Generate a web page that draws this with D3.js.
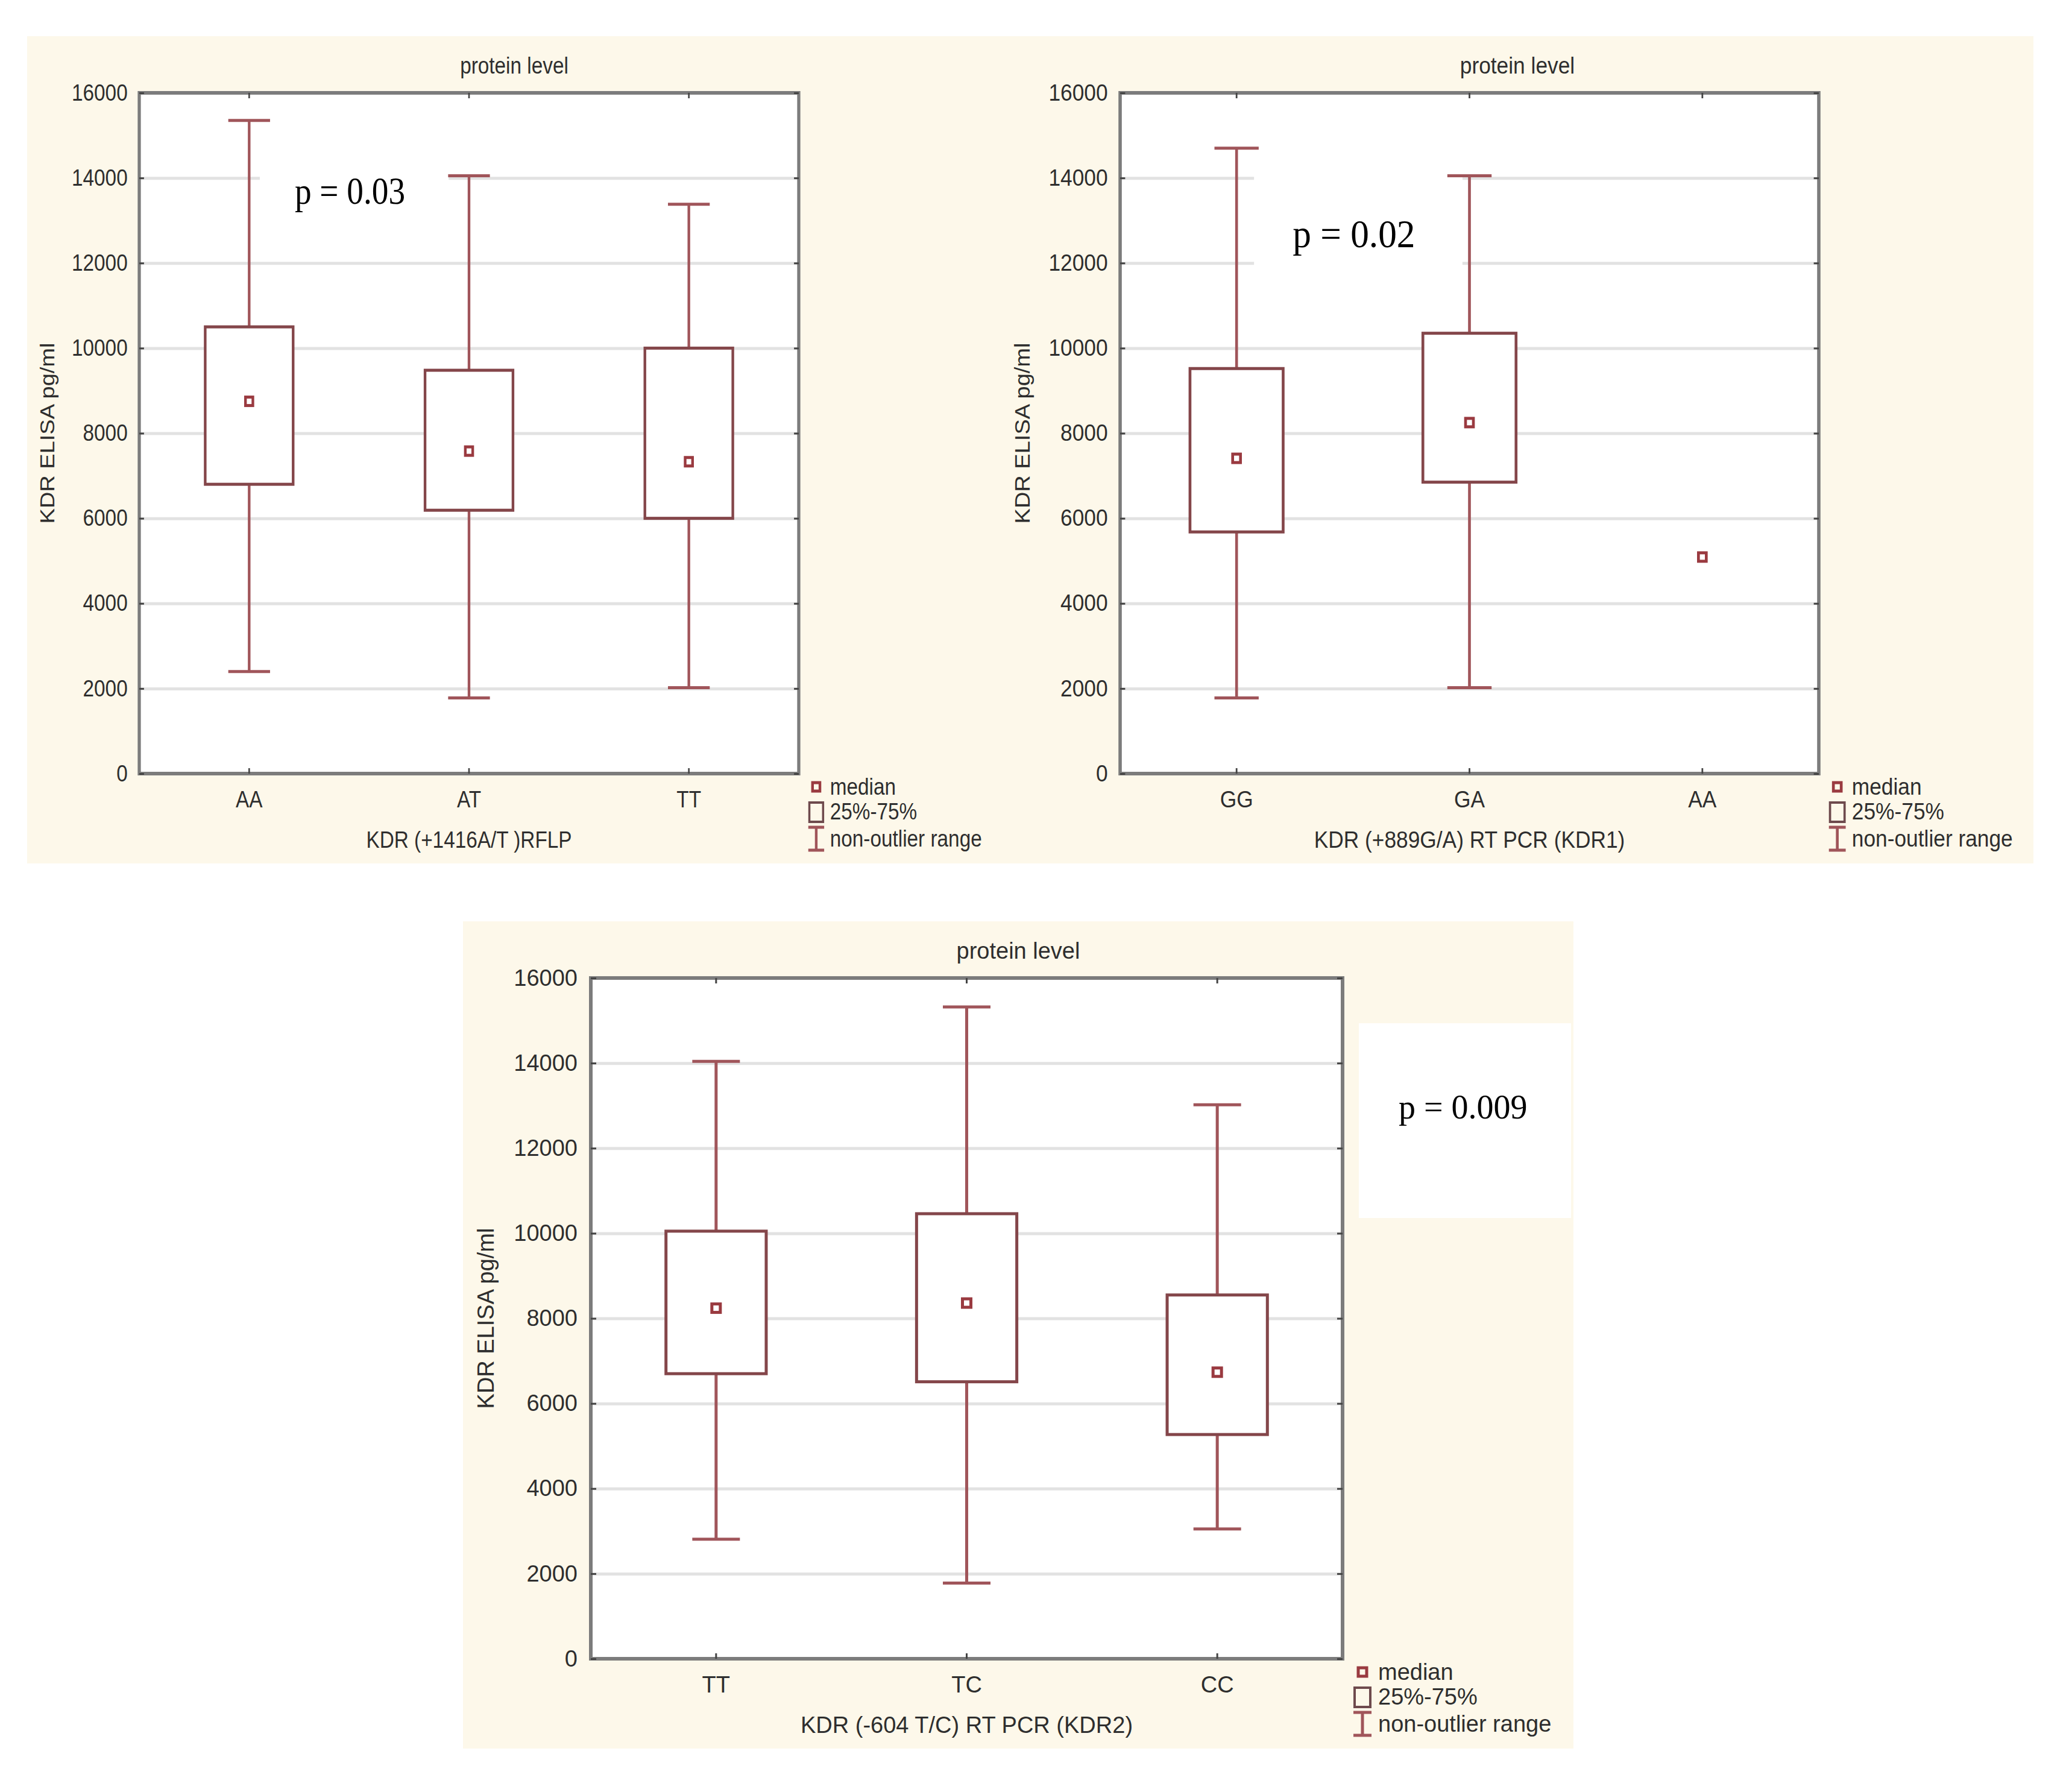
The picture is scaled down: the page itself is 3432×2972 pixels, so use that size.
<!DOCTYPE html>
<html>
<head>
<meta charset="utf-8">
<script src="https://cdn.jsdelivr.net/npm/d3@7"></script>
<style>
  body { margin: 0; background: #ffffff; }
  text { font-family: "Liberation Sans", Arial, sans-serif; }
  text.pval { font-family: "Liberation Serif", "Times New Roman", serif; }
</style>
</head>
<body>
<div class="chart"></div>
<script>
// y axis ticks, shared by the three plots
var yTicks = [0, 2000, 4000, 6000, 8000, 10000, 12000, 14000, 16000];

// plot 1: KDR (+1416A/T) RFLP
var cats1 = ["AA", "AT", "TT"];
var min1 = [2400, 1780, 2020];
var q1_1 = [6800, 6190, 6000];
var med1 = [8750, 7580, 7330];
var q3_1 = [10500, 9480, 10000];
var max1 = [15350, 14050, 13380];

// plot 2: KDR (+889G/A) RT PCR (KDR1)  - AA has only a median
var cats2 = ["GG", "GA", "AA"];
var min2 = [1780, 2020, null];
var q1_2 = [5680, 6850, null];
var med2 = [7410, 8250, 5090];
var q3_2 = [9520, 10350, null];
var max2 = [14700, 14050, null];

// plot 3: KDR (-604 T/C) RT PCR (KDR2)
var cats3 = ["TT", "TC", "CC"];
var min3 = [2810, 1780, 3050];
var q1_3 = [6700, 6510, 5270];
var med3 = [8240, 8360, 6735];
var q3_3 = [10050, 10460, 8550];
var max3 = [14040, 15320, 13020];

var titles = ["protein level", "protein level", "protein level"];
var xTitles = ["KDR (+1416A/T )RFLP", "KDR (+889G/A) RT PCR (KDR1)", "KDR (-604 T/C) RT PCR (KDR2)"];
var yTitle = "KDR ELISA pg/ml";
var pTexts = ["p = 0.03", "p = 0.02", "p = 0.009"];
var legendLabels = ["median", "25%-75%", "non-outlier range"];

// every panel is drawn in the same native layout, then squeezed sideways
var panelW = 1842, panelH = 1372;
var margin = {left: 212, top: 94};
var width = 1247, height = 1129;

var boxColor = "#84464a";
var whiskColor = "#a0555a";
var textColor = "#2e2e2e";

var svg = d3.select(".chart").append("svg")
    .attr("width", 3432)
    .attr("height", 2972);

svg.append("rect").attr("width", 3432).attr("height", 2972).attr("fill", "#ffffff");

var panels = [
    {cats: cats1, min: min1, q1: q1_1, med: med1, q3: q3_1, max: max1,
     tx: 45, ty: 60, sx: 0.8773,
     p: {x: 506, y: 278, size: 63}, pBox: {x: 440, y: 200, w: 357, h: 140}},
    {cats: cats2, min: min2, q1: q1_2, med: med2, q3: q3_2, max: max2,
     tx: 1661, ty: 60, sx: 0.9294,
     p: {x: 520, y: 350, size: 66}, pBox: {x: 451, y: 210, w: 372, h: 200}},
    {cats: cats3, min: min3, q1: q1_3, med: med3, q3: q3_3, max: max3,
     tx: 768, ty: 1528, sx: 1,
     p: {x: 1552, y: 327, size: 56}, pBox: {x: 1486, y: 169, w: 352, h: 323}}
];

panels.forEach(function(pn, i) {
    var panel = svg.append("g")
        .attr("transform", `translate(${pn.tx}, ${pn.ty}) scale(${pn.sx}, 1)`);

    // beige background
    panel.append("rect")
        .attr("width", panelW).attr("height", panelH)
        .attr("fill", "#fdf8ea");

    var chartGroup = panel.append("g")
        .attr("transform", `translate(${margin.left}, ${margin.top})`);

    var x = d3.scaleBand().domain(pn.cats).range([0, width]).padding(0);
    var y = d3.scaleLinear().domain([0, 16000]).range([height, 0]);
    var bw = x.bandwidth();
    var boxW = bw * 0.4;
    var capW = bw * 0.19;

    chartGroup.append("rect")
        .attr("width", width).attr("height", height)
        .attr("fill", "#ffffff");

    // gridlines
    var grid = chartGroup.append("g")
        .call(d3.axisLeft(y).tickValues(yTicks).tickSize(-width).tickFormat(""));
    grid.select(".domain").remove();
    grid.selectAll("line").attr("stroke", "#e2e2e2").attr("stroke-width", 5);

    // white patch behind the p value
    var pParent = i == 2 ? panel : chartGroup;
    var offX = i == 2 ? 0 : margin.left, offY = i == 2 ? 0 : margin.top;
    pParent.append("rect")
        .attr("x", pn.pBox.x - offX).attr("y", pn.pBox.y - offY)
        .attr("width", pn.pBox.w).attr("height", pn.pBox.h)
        .attr("fill", "#ffffff");

    var idx = d3.range(pn.cats.length).filter(k => pn.min[k] != null);
    var cx = k => x(pn.cats[k]) + bw / 2;

    // whiskers
    idx.forEach(function(k) {
        var c = cx(k);
        var w = chartGroup.append("g")
            .attr("stroke", whiskColor).attr("stroke-width", 5);
        w.append("line").attr("x1", c).attr("x2", c)
            .attr("y1", y(pn.max[k])).attr("y2", y(pn.q3[k]));
        w.append("line").attr("x1", c).attr("x2", c)
            .attr("y1", y(pn.q1[k])).attr("y2", y(pn.min[k]));
        w.append("line").attr("x1", c - capW / 2).attr("x2", c + capW / 2)
            .attr("y1", y(pn.max[k])).attr("y2", y(pn.max[k]));
        w.append("line").attr("x1", c - capW / 2).attr("x2", c + capW / 2)
            .attr("y1", y(pn.min[k])).attr("y2", y(pn.min[k]));
    });

    // boxes
    chartGroup.selectAll(".box")
        .data(idx)
        .enter()
        .append("rect")
        .attr("class", "box")
        .attr("x", k => cx(k) - boxW / 2)
        .attr("y", k => y(pn.q3[k]))
        .attr("width", boxW)
        .attr("height", k => y(pn.q1[k]) - y(pn.q3[k]))
        .attr("fill", "#ffffff")
        .attr("stroke", boxColor)
        .attr("stroke-width", 5);

    // medians
    chartGroup.selectAll(".med")
        .data(d3.range(pn.cats.length))
        .enter()
        .append("rect")
        .attr("class", "med")
        .attr("x", k => cx(k) - 7)
        .attr("y", k => y(pn.med[k]) - 7)
        .attr("width", 14).attr("height", 14)
        .attr("fill", "#ffffff")
        .attr("stroke", "#9a3a40")
        .attr("stroke-width", 5);

    // frame
    chartGroup.append("rect")
        .attr("width", width).attr("height", height)
        .attr("fill", "none")
        .attr("stroke", "#7c7c7c")
        .attr("stroke-width", 6);

    // axes
    var leftAxis = chartGroup.append("g")
        .call(d3.axisLeft(y).tickValues(yTicks).tickSize(-9).tickPadding(22).tickFormat(d3.format("d")));
    var rightAxis = chartGroup.append("g")
        .attr("transform", `translate(${width}, 0)`)
        .call(d3.axisRight(y).tickValues(yTicks).tickSize(-9).tickFormat(""));
    var bottomAxis = chartGroup.append("g")
        .attr("transform", `translate(0, ${height})`)
        .call(d3.axisBottom(x).tickSize(-9).tickPadding(29));
    var topAxis = chartGroup.append("g")
        .call(d3.axisTop(x).tickSize(-9).tickFormat(""));
    [leftAxis, rightAxis, bottomAxis, topAxis].forEach(function(a) {
        a.select(".domain").remove();
        a.selectAll("line").attr("stroke", "#444").attr("stroke-width", 3);
        a.selectAll("text")
            .attr("font-size", 38)
            .attr("fill", textColor);
    });

    // titles
    panel.append("text")
        .attr("x", panelW / 2).attr("y", 62)
        .attr("text-anchor", "middle")
        .attr("font-size", 38).attr("fill", textColor)
        .text(titles[i]);
    panel.append("text")
        .attr("transform", `translate(${margin.left + width / 2}, 1346)`)
        .attr("text-anchor", "middle")
        .attr("font-size", 38).attr("fill", textColor)
        .text(xTitles[i]);
    panel.append("text")
        .attr("transform", `translate(51, ${margin.top + height / 2}) rotate(-90)`)
        .attr("text-anchor", "middle")
        .attr("font-size", 38).attr("fill", textColor)
        .text(yTitle);

    // p value
    panel.append("text")
        .attr("class", "pval")
        .attr("x", pn.p.x).attr("y", pn.p.y)
        .attr("font-size", pn.p.size)
        .attr("fill", "#000")
        .text(pTexts[i]);

    // legend
    var legend = panel.append("g").attr("transform", "translate(1492, 0)");
    legend.append("rect")
        .attr("x", -7).attr("y", 1245 - 7).attr("width", 14).attr("height", 14)
        .attr("fill", "none").attr("stroke", "#9a3a40").attr("stroke-width", 5);
    legend.append("rect")
        .attr("x", -13).attr("y", 1271).attr("width", 26).attr("height", 32)
        .attr("fill", "none").attr("stroke", "#6e4a4d").attr("stroke-width", 4);
    var ib = legend.append("g").attr("stroke", whiskColor).attr("stroke-width", 5);
    ib.append("line").attr("x1", 0).attr("x2", 0).attr("y1", 1312).attr("y2", 1350);
    ib.append("line").attr("x1", -15).attr("x2", 15).attr("y1", 1312).attr("y2", 1312);
    ib.append("line").attr("x1", -15).attr("x2", 15).attr("y1", 1350).attr("y2", 1350);
    legend.selectAll(".leg")
        .data(legendLabels)
        .enter()
        .append("text")
        .attr("x", 26)
        .attr("y", (d, j) => [1258, 1299, 1344][j])
        .attr("font-size", 38).attr("fill", textColor)
        .text(d => d);
});
</script>
</body>
</html>
